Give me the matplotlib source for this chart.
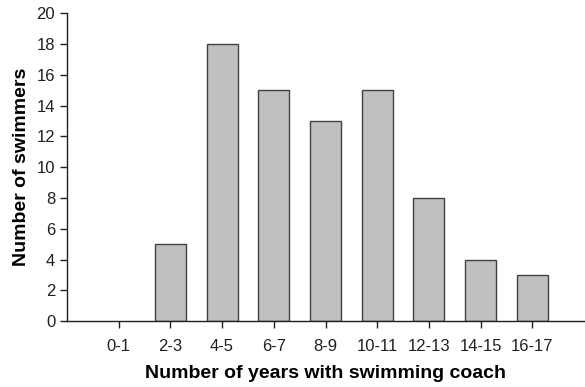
import matplotlib
matplotlib.use('Agg')
import matplotlib.pyplot as plt

plt.rcParams['font.family'] = ['Liberation Sans', 'DejaVu Sans']

years = ['0-1', '2-3', '4-5', '6-7', '8-9', '10-11', '12-13', '14-15', '16-17']
swimmers = [0, 5, 18, 15, 13, 15, 8, 4, 3]

fig = plt.figure(figsize=(5.85, 3.87), dpi=100)
ax = fig.add_axes([0.1145, 0.17, 0.884, 0.796])
bars = ax.bar(range(len(years)), swimmers, width=0.6, color='#c0c0c0',
              edgecolor='#404040', linewidth=1.0)
# an empty bin has no visible outline in the original
for b, v in zip(bars, swimmers):
    if v == 0:
        b.set_linewidth(0)
ax.set_xlim(-1, 9)
ax.set_ylim(0, 20)
ax.set_yticks(range(0, 21, 2))
ax.set_xticks(range(len(years)))
ax.set_xticklabels(years)
ax.spines['top'].set_visible(False)
ax.spines['right'].set_visible(False)
for s in ('left', 'bottom'):
    ax.spines[s].set_linewidth(1.0)
    ax.spines[s].set_color('#202020')
ax.tick_params(direction='out', length=5, width=1.0, labelsize=12, colors='#202020')
ax.tick_params(axis='x', pad=8)
ax.set_xlabel('Number of years with swimming coach', fontsize=14, fontweight='bold', labelpad=8)
ax.set_ylabel('Number of swimmers', fontsize=14, fontweight='bold', labelpad=5)
plt.savefig('out.png')
